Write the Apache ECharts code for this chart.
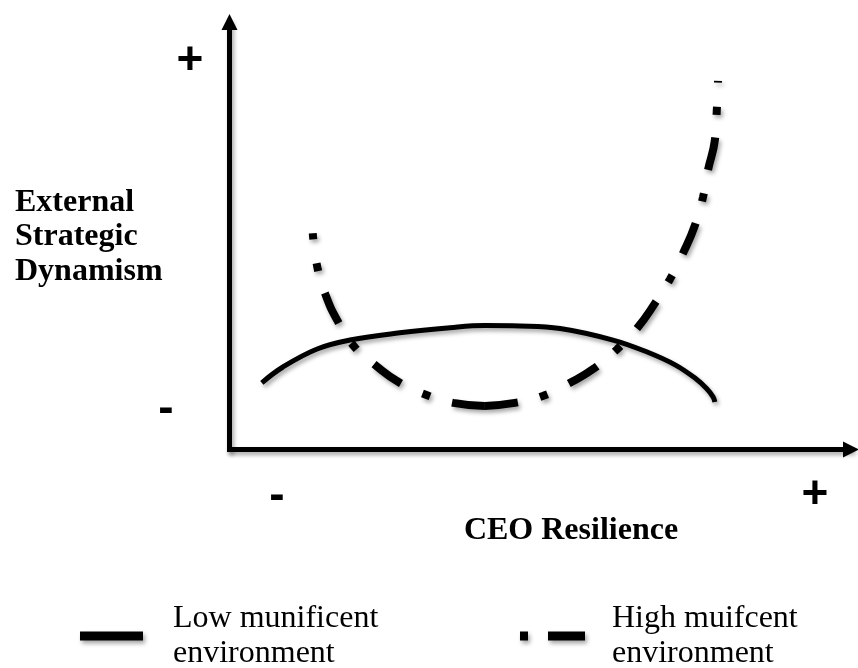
<!DOCTYPE html>
<html>
<head>
<meta charset="utf-8">
<script src="https://cdn.jsdelivr.net/npm/echarts@6/dist/echarts.min.js"></script>
<style>
  html, body { margin: 0; padding: 0; background: #fff; }
  #chart_main { width: 858px; height: 668px; }
</style>
</head>
<body>
<div id="chart_main"></div>
<script>
// series names (legend)
var lowName = "Low munificent environment";
var highName = "High muifcent environment";

// low munificent: flat inverted-U
var lowX = [5.2, 8.6, 14.1, 19.4, 27.4, 35.5, 41.1, 46.7, 53.2, 61.7, 67.2, 71.7, 74.9, 76.8, 77.8, 78.1];
var lowY = [15.6, 19.3, 23.5, 25.6, 27.3, 28.5, 29.0, 28.9, 28.3, 25.6, 22.8, 19.8, 16.7, 14.2, 12.3, 11.1];

// high munificent: U shape, drawn as two halves starting from the bottom
var highLeftX = [41.1, 36.0, 31.6, 27.4, 23.4, 20.0, 17.5, 15.4, 14.1, 13.4];
var highLeftY = [10.2, 10.9, 12.8, 15.6, 19.8, 24.2, 29.8, 36.4, 42.9, 50.6];
var highRightX = [41.1, 45.9, 50.4, 54.8, 58.8, 62.4, 65.6, 68.5, 70.9, 73.0, 74.9, 76.2, 77.0, 78.1, 78.4, 78.6];
var highRightY = [10.2, 10.9, 12.5, 15.6, 19.1, 23.5, 28.4, 34.3, 39.9, 46.0, 52.5, 59.1, 65.4, 72.4, 79.2, 86.2];

// axis titles and sign marks
var yTitle = "External\nStrategic\nDynamism";
var xTitle = "CEO Resilience";
var signPlus = "+";
var signMinus = "-";

function pairs(xs, ys) {
  return xs.map(function (x, i) { return [x, ys[i]]; });
}

var shadow = {
  shadowColor: "rgba(0,0,0,0.35)",
  shadowBlur: 4,
  shadowOffsetX: 2,
  shadowOffsetY: 3,
};

function axisCfg() {
  return {
    type: "value",
    min: 0,
    max: 100,
    axisLine: {
      show: true,
      symbol: ["none", "triangle"],
      symbolSize: [16, 16],
      lineStyle: Object.assign({ color: "#000", width: 5, cap: "square" }, shadow),
    },
    axisTick: { show: false },
    axisLabel: { show: false },
    splitLine: { show: false },
  };
}

function highSerie(data) {
  return {
    name: highName,
    type: "line",
    smooth: true,
    symbol: "none",
    lineStyle: Object.assign({ color: "#000", width: 8, type: [33, 23, 8, 24] }, shadow),
    itemStyle: { color: "#000" },
    data: data,
  };
}

var legendText = {
  fontFamily: "Liberation Serif",
  fontSize: 32,
  color: "#000",
  lineHeight: 35,
};

var signFont = "bold 46px 'Liberation Sans'";
var titleFont = "bold 32px 'Liberation Serif'";

var option = {
  animation: false,
  grid: { left: 229.5, right: 7, top: 22, bottom: 218.5 },
  xAxis: axisCfg(),
  yAxis: axisCfg(),
  legend: [
    {
      data: [lowName],
      left: 80,
      top: 578,
      padding: 0,
      selectedMode: false,
      icon: "rect",
      itemWidth: 63,
      itemHeight: 9,
      itemStyle: Object.assign({ color: "#000", borderWidth: 0 }, shadow),
      formatter: function (name) { return name.replace(" environment", "\nenvironment"); },
      textStyle: Object.assign({ padding: [46, 0, 0, 25] }, legendText),
    },
    {
      data: [highName],
      left: 520,
      top: 578,
      padding: 0,
      selectedMode: false,
      icon: "path://M0,0h8v9h-8z M28,0h37v9h-37z",
      itemWidth: 65,
      itemHeight: 9,
      itemStyle: Object.assign({ color: "#000", borderWidth: 0 }, shadow),
      formatter: function (name) { return name.replace(" environment", "\nenvironment"); },
      textStyle: Object.assign({ padding: [46, 0, 0, 22] }, legendText),
    },
  ],
  graphic: [
    { type: "text", left: 15, top: 185, style: { text: yTitle, font: titleFont, lineHeight: 34.5, fill: "#000" } },
    { type: "text", x: 571, y: 531, style: { text: xTitle, font: titleFont, align: "center", verticalAlign: "middle", fill: "#000" } },
    { type: "text", x: 190, y: 61, style: { text: signPlus, font: signFont, align: "center", verticalAlign: "middle", fill: "#000" } },
    { type: "text", x: 166, y: 409, style: { text: signMinus, font: signFont, align: "center", verticalAlign: "middle", fill: "#000" } },
    { type: "text", x: 277, y: 496, style: { text: signMinus, font: signFont, align: "center", verticalAlign: "middle", fill: "#000" } },
    { type: "text", x: 815, y: 495, style: { text: signPlus, font: signFont, align: "center", verticalAlign: "middle", fill: "#000" } },
  ],
  series: [
    {
      name: lowName,
      type: "line",
      smooth: 0.4,
      symbol: "none",
      lineStyle: Object.assign({ color: "#000", width: 5 }, shadow),
      itemStyle: { color: "#000" },
      data: pairs(lowX, lowY),
    },
    highSerie(pairs(highLeftX, highLeftY)),
    highSerie(pairs(highRightX, highRightY)),
  ],
};

var myChart = echarts.init(document.getElementById("chart_main"));
myChart.setOption(option);
window.addEventListener("resize", function () {
  myChart.resize();
});
</script>
</body>
</html>
